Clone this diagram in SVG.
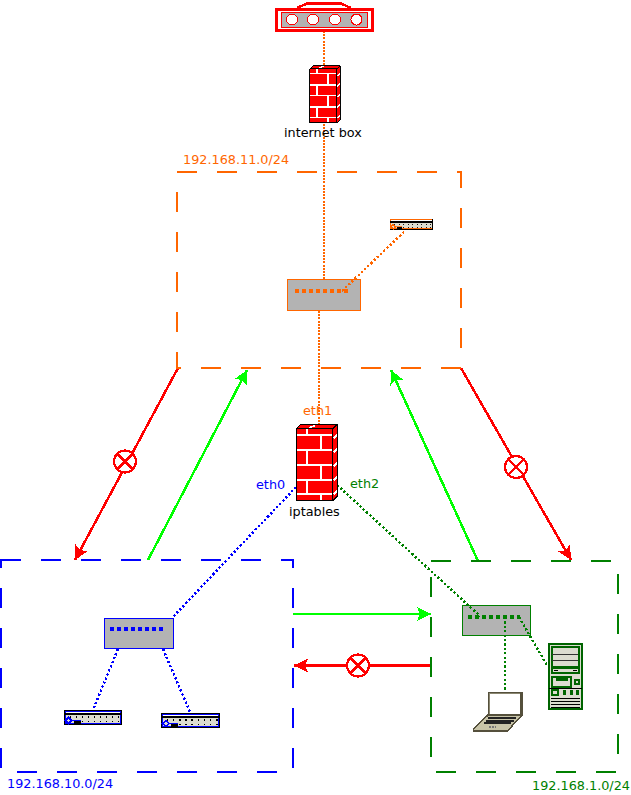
<svg xmlns="http://www.w3.org/2000/svg" xmlns:xlink="http://www.w3.org/1999/xlink" width="631" height="795" viewBox="0 0 631 795">
<style>
path,rect,circle{shape-rendering:crispEdges}
text{font-family:"DejaVu Sans",sans-serif;font-size:12.8px}
.zone{fill:none;stroke-width:2;stroke-dasharray:20,20}
.dot{fill:none;stroke-width:2.400;stroke-dasharray:2.200,2.200}
.fine{stroke-dasharray:2,1.200}
.or{stroke:#ff6600}.bl{stroke:#0000ff}.gr{stroke:#008000}
.allow{fill:none;stroke:#00ff00;stroke-width:2.500;marker-end:url(#ag)}
.deny{fill:none;stroke:#ff0000;stroke-width:2.500;marker-end:url(#ar)}
.no{fill:#fff;stroke:#ff0000;stroke-width:2.200}
.sw{fill:#b3b3b3;stroke-width:1}
.ports{fill:none;stroke-width:4;stroke-dasharray:3.500,3.500}
.sv{fill:none;stroke:#006400;stroke-width:2}
</style>
<defs>
<marker id="ag" markerUnits="userSpaceOnUse" markerWidth="20" markerHeight="16" refX="14" refY="7" orient="auto"><path d="M0,0L14,7L0,14L3,7z" fill="#00ff00"/></marker>
<marker id="ar" markerUnits="userSpaceOnUse" markerWidth="20" markerHeight="16" refX="14" refY="7" orient="auto"><path d="M0,0L14,7L0,14L3,7z" fill="#ff0000"/></marker>
<g id="nogo"><circle r="11" class="no"/><path d="M-8,-8L8,8M8,-8L-8,8" class="no"/></g>
<g id="fw">
<path d="M0,0L4,-4H41V68L36,72H0z" fill="#ff0000"/>
<path d="M0,6.700H36M0,21.700H36M0,36H36M0,51H36M0,65H36M10.300,0V6.700M24.700,6.700V21.700M10.300,21.700V36M24.700,36V51M10.300,51V65M24.700,65V72" fill="none" stroke="#fff" stroke-width="2"/>
<path d="M37,10L41,6M37,24L41,20M37,38L41,34M37,52L41,48M37,66L41,62M13,-1L19,-3" fill="none" stroke="#fff" stroke-width="1.600"/>
<path d="M0,0L4,-4H41V68L36,72H0zM0,0H36V72M36,0L41,-4" fill="none" stroke="#000" stroke-width="1.300"/>
</g>
<g id="dev">
<rect x="0" y="0" width="58" height="15" fill="#000"/>
<rect x="1" y="1" width="56" height="13" fill="currentColor"/>
<rect x="2" y="2" width="54" height="1.500" fill="#fff"/>
<rect x="1" y="3.500" width="56" height="2" fill="#000"/>
<rect x="2" y="5.500" width="54" height="7.500" fill="#dcdcd0"/>
<path d="M6,7.500H56M6,12H56" stroke="#000" stroke-width="1.200" stroke-dasharray="1.500,4.500" fill="none"/>
<path d="M5,8L8,11L5,14L2,11z" fill="#dcdcd0" stroke="currentColor" stroke-width="1.500"/>
<rect x="10" y="11.500" width="7" height="2.500" fill="#000"/><path d="M8,10.800H17" stroke="currentColor"/>
</g>
</defs>
<g id="switch-dmz"><rect class="sw or" x="287.500" y="279.500" width="73" height="31"/><path class="ports or" d="M295,291H350"/></g>
<g id="switch-lan"><rect class="sw bl" x="104.500" y="618.500" width="69" height="30"/><path class="ports bl" d="M110,629H164"/></g>
<g id="switch-wifi"><rect class="sw gr" x="462.500" y="605.500" width="68" height="30"/><path class="ports gr" d="M468,616.500H520"/></g>
<g id="connectors">
<path class="dot fine or" d="M324,31V279"/>
<path class="dot fine or" d="M319,311V425"/>
<path class="dot or" d="M342,291L404,232"/>
<path class="dot bl" d="M296,487L172,618"/>
<path class="dot bl" d="M118,649L93,710"/>
<path class="dot bl" d="M163,649L190,712"/>
<path class="dot gr" d="M337,485L480,616"/>
<path class="dot gr" d="M505,617V691"/>
<path class="dot gr" d="M519,617L548,667"/>
<path class="deny" d="M178,368L75,560"/>
<path class="allow" d="M148,560L247,370"/>
<path class="allow" d="M478,561L391,370"/>
<path class="deny" d="M461,368L571,560"/>
<path class="allow" d="M293,614H431"/>
<path class="deny" d="M431,665.500H294"/>
<use href="#nogo" x="125" y="461.500"/>
<use href="#nogo" x="516" y="467"/>
<use href="#nogo" x="358" y="665.500"/>
</g>
<g id="zone-dmz"><rect class="zone or" x="177" y="171.500" width="284" height="196"/><text x="183" y="164" fill="#ff6600">192.168.11.0/24</text></g>
<g id="zone-lan"><rect class="zone bl" x="1" y="560" width="292" height="212"/><text x="7" y="788" fill="#0000ff">192.168.10.0/24</text></g>
<g id="zone-wifi"><rect class="zone gr" x="431" y="561" width="187" height="211"/><text x="532" y="790" fill="#008000">192.168.1.0/24</text></g>
<g id="router">
<path d="M297,8L307,3.500H341L351,8" fill="none" stroke="#ff0000" stroke-width="2.500"/>
<rect x="276.500" y="9.500" width="96" height="21" fill="#fff" stroke="#ff0000" stroke-width="3"/>
<rect x="281.500" y="12" width="86" height="15" fill="#b3b3b3" stroke="#ff0000"/>
<g fill="#fff" stroke="#ff0000"><circle cx="292" cy="19.500" r="5.500"/><circle cx="313" cy="19.500" r="5.500"/><circle cx="335" cy="19.500" r="5.500"/><circle cx="356.500" cy="19.500" r="5.500"/></g>
</g>
<g id="internet-box"><use href="#fw" transform="translate(309.500,68.500) scale(.75)"/><text x="284" y="137" fill="#000">internet box</text></g>
<g id="iptables"><use href="#fw" transform="translate(296.500,428.500)"/><text x="289" y="516" fill="#000">iptables</text>
<text x="303" y="415" fill="#ff6600">eth1</text><text x="256" y="489" fill="#0000ff">eth0</text><text x="350" y="488" fill="#008000">eth2</text></g>
<g id="device-dmz" style="color:#ff6600"><use href="#dev" transform="translate(389.500,218.500) scale(.75)"/></g>
<g id="device-lan1" style="color:#0000ff"><use href="#dev" transform="translate(63.500,709.500)"/></g>
<g id="device-lan2" style="color:#0000ff"><use href="#dev" transform="translate(160.500,712.500) scale(1.03,1)"/></g>
<g id="laptop">
<path d="M473.500,729L488,715H522L507.500,731H473.500z" fill="#c8c4a8" stroke="#55503c" stroke-width="1.500"/>
<rect x="487.500" y="691.500" width="35" height="24" fill="#55503c"/>
<rect x="489" y="693" width="31" height="21" fill="#8a8670"/>
<rect x="490" y="694" width="29.500" height="19.500" fill="#fff"/>
<path d="M488,718H516M486,720.500H514M484,723H511" stroke="#222" stroke-width="2"/>
<path d="M489,727H496" stroke="#777" stroke-width="2" stroke-dasharray="2,1"/>
</g>
<g id="server">
<rect x="549" y="644" width="33" height="65" fill="#dcdcd0" stroke="#006400" stroke-width="1.500"/>
<rect x="551.500" y="647" width="27" height="26" class="sv"/>
<path d="M552,654H578M552,660.500H578" stroke="#333" stroke-width="1"/>
<path d="M552,667H578" stroke="#006400" stroke-width="3"/>
<path d="M554,670.500H558M573,670.500H577" stroke="#000" stroke-width="1"/>
<rect x="551.500" y="676.500" width="19" height="10" class="sv"/>
<path d="M556,679.500H568" stroke="#006400" stroke-width="2.500"/>
<rect x="575" y="680" width="4" height="4" class="sv" stroke-width="1"/>
<path d="M549,688.500H582" stroke="#000"/>
<rect x="551.500" y="690" width="6" height="4.500" class="sv"/>
<path d="M564.500,690V695M571,690V695M577.500,690V695" stroke="#006400" stroke-width="3"/>
<path d="M551,698.500H580M551,701.500H580M551,704.500H580M551,707.500H580" stroke="#000" stroke-width="1.500"/>
</g>
</svg>
